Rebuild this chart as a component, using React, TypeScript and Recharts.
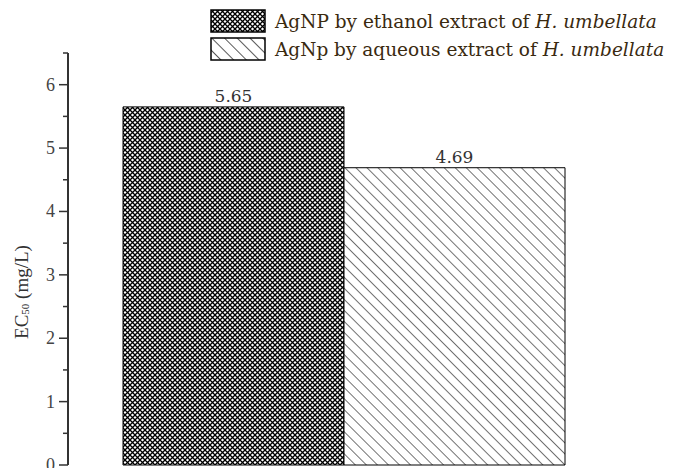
import React from "react";
import { BarChart, Bar, XAxis, YAxis, Legend, LabelList } from "recharts";

const seriesNames = [
  "AgNP by ethanol extract of ",
  "AgNp by aqueous extract of ",
];
const speciesName = "H. umbellata";
const ethanolValue = [5.65];
const aqueousValue = [4.69];
const yTicks = [0, 0.5, 1, 1.5, 2, 2.5, 3, 3.5, 4, 4.5, 5, 5.5, 6, 6.5];

const data = ethanolValue.map((v, i) => ({
  name: "EC50",
  ethanol: v,
  aqueous: aqueousValue[i],
}));

const serif = "'Liberation Serif', 'Times New Roman', serif";
const legendFont = "'DejaVu Serif', serif";

const YTick = (props: any) => {
  const { x, y, payload } = props;
  const v = payload.value as number;
  const major = Number.isInteger(v);
  return (
    <g>
      <line x1={x - (major ? 9 : 5)} y1={y} x2={x} y2={y} stroke="#333" strokeWidth={1.5} />
      {major && (
        <text x={x - 13} y={y} dy={6} textAnchor="end" fontFamily={serif} fontSize={18} fill="#444">
          {v}
        </text>
      )}
    </g>
  );
};

const LegendBox = ({ kind }: { kind: "cross" | "hatch" }) => (
  <svg width={56} height={24} style={{ display: "block" }}>
    <defs>
      <pattern id="lgCross" width={5} height={5} patternUnits="userSpaceOnUse">
        <rect width={5} height={5} fill="#fff" />
        <path d="M0,0 L5,5 M5,0 L0,5" stroke="#000" strokeWidth={1.3} />
      </pattern>
      <pattern id="lgHatch" width={9} height={9} patternUnits="userSpaceOnUse" patternTransform="rotate(-45)">
        <rect width={9} height={9} fill="#fff" />
        <line x1={0} y1={0} x2={0} y2={9} stroke="#000" strokeWidth={1.3} />
      </pattern>
    </defs>
    <rect
      x={1}
      y={1}
      width={54}
      height={22}
      fill={kind === "cross" ? "url(#lgCross)" : "url(#lgHatch)"}
      stroke="#000"
      strokeWidth={1.5}
    />
  </svg>
);

const renderLegend = () => (
  <div style={{ display: "flex", flexDirection: "column", gap: 4 }}>
    {seriesNames.map((n, i) => (
      <div key={n} style={{ display: "flex", alignItems: "center" }}>
        <LegendBox kind={i === 0 ? "cross" : "hatch"} />
        <span
          style={{
            marginLeft: 9,
            fontFamily: legendFont,
            fontSize: 18.5,
            color: "#3a2a10",
            whiteSpace: "nowrap",
            letterSpacing: 0,
          }}
        >
          {n}
          <i>{speciesName}</i>
        </span>
      </div>
    ))}
  </div>
);

export default function App() {
  return (
    <div style={{ position: "absolute", left: 0, top: 0, width: 679, height: 468, background: "#fff" }}>
      <BarChart
        width={679}
        height={468}
        data={data}
        margin={{ top: 53, right: 59, bottom: 3, left: 0 }}
        barGap={0}
        barSize={221}
      >
        <defs>
          <pattern id="crossFill" width={5} height={5} patternUnits="userSpaceOnUse">
            <rect width={5} height={5} fill="#fff" />
            <path d="M0,0 L5,5 M5,0 L0,5" stroke="#000" strokeWidth={1.3} />
          </pattern>
          <pattern id="hatchFill" width={7.8} height={7.8} patternUnits="userSpaceOnUse" patternTransform="rotate(-45)">
            <rect width={7.8} height={7.8} fill="#fff" />
            <line x1={0} y1={0} x2={0} y2={7.8} stroke="#000" strokeWidth={1.1} />
          </pattern>
        </defs>
        <XAxis dataKey="name" tick={false} tickLine={false} height={0} axisLine={{ stroke: "#333", strokeWidth: 2 }} />
        <YAxis
          width={68}
          domain={[0, 6.5]}
          ticks={yTicks}
          interval={0}
          tickLine={false}
          tickSize={0}
          tickMargin={0}
          tick={<YTick />}
          axisLine={{ stroke: "#333", strokeWidth: 2 }}
        />
        <Legend
          layout="horizontal"
          verticalAlign="middle"
          align="center"
          content={renderLegend}
          wrapperStyle={{ top: 9, left: 210, width: 469 }}
        />
        <Bar dataKey="ethanol" fill="url(#crossFill)" stroke="#000" strokeWidth={1} isAnimationActive={false}>
          <LabelList dataKey="ethanol" position="top" offset={5} fontFamily={legendFont} fontSize={17} fill="#333" formatter={(v: any) => Number(v).toFixed(2)} />
        </Bar>
        <Bar dataKey="aqueous" fill="url(#hatchFill)" stroke="#000" strokeWidth={1} isAnimationActive={false}>
          <LabelList dataKey="aqueous" position="top" offset={5} fontFamily={legendFont} fontSize={17} fill="#333" formatter={(v: any) => Number(v).toFixed(2)} />
        </Bar>
        <text x={21} y={292} transform="rotate(-90 21 292)" textAnchor="middle" dominantBaseline="central" fontFamily={serif} fontSize={19} fill="#333">
          EC
          <tspan fontSize={11} dy={4}>50</tspan>
          <tspan dy={-4}> (mg/L)</tspan>
        </text>
      </BarChart>
    </div>
  );
}
